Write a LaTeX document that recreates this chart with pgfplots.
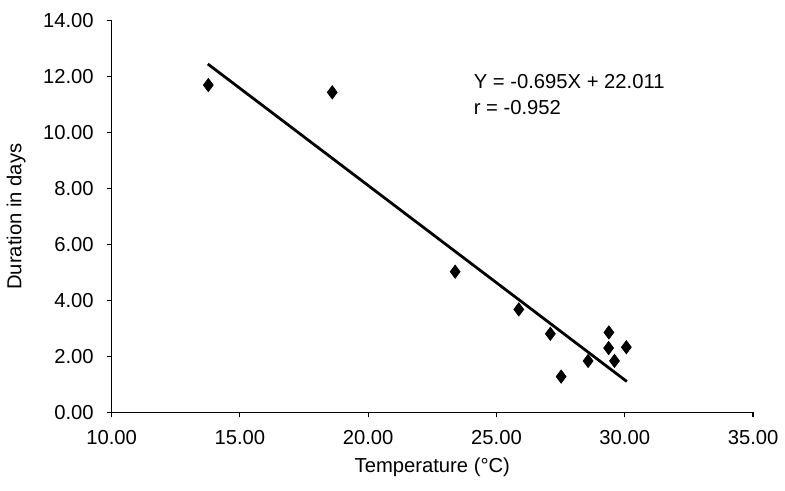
\documentclass[border=0pt]{standalone}
\usepackage{fontspec}
\setmainfont{Liberation Sans}
\usepackage{pgfplots}
\pgfplotsset{compat=1.18}

\begin{document}
\begin{tikzpicture}
\begin{axis}[
    scale only axis,
    width=323.5pt,
    height=197.5pt,
    xmin=10, xmax=35,
    ymin=0, ymax=14,
    xtick={10,15,20,25,30,35},
    ytick={0,2,4,6,8,10,12,14},
    axis lines*=left,
    axis line style={line width=0.8pt},
    tick align=outside,
    major tick length=2.5pt,
    tick style={line width=0.6pt, black},
    /pgf/number format/.cd, fixed, fixed zerofill, precision=2, assume math mode=true,
    /pgfplots/.cd,
    tick label style={font=\fontsize{10.2}{12}\selectfont},
    xlabel={Temperature (°C)},
    ylabel={Duration in days},
    label style={font=\fontsize{10.2}{12}\selectfont},
    xticklabel style={yshift=-3pt},
    yticklabel style={xshift=-3pt},
    xlabel style={yshift=0pt},
    ylabel style={yshift=2pt},
    clip=false,
]
% observed durations
\addplot[only marks, mark=diamond*, mark size=3.3pt, black] coordinates {
    (13.77,11.70) (18.60,11.44) (23.39,5.03) (25.87,3.68) (27.10,2.81)
    (27.52,1.28) (28.57,1.84) (29.38,2.86) (29.37,2.30) (29.60,1.84)
    (30.06,2.33)
};
% fitted line Y = -0.695X + 22.011
\addplot[black, line width=1.4pt] coordinates {(13.75,12.455) (30.08,1.105)};
\node[anchor=west, font=\fontsize{10.2}{12}\selectfont, inner sep=0pt] at (axis cs:24.1,11.84) {Y = -0.695X + 22.011};
\node[anchor=west, font=\fontsize{10.2}{12}\selectfont, inner sep=0pt] at (axis cs:24.1,10.90) {r = -0.952};
\path (rel axis cs:-0.1685,-0.2) rectangle (rel axis cs:1.0448,1.053);
\end{axis}
\end{tikzpicture}
\end{document}
